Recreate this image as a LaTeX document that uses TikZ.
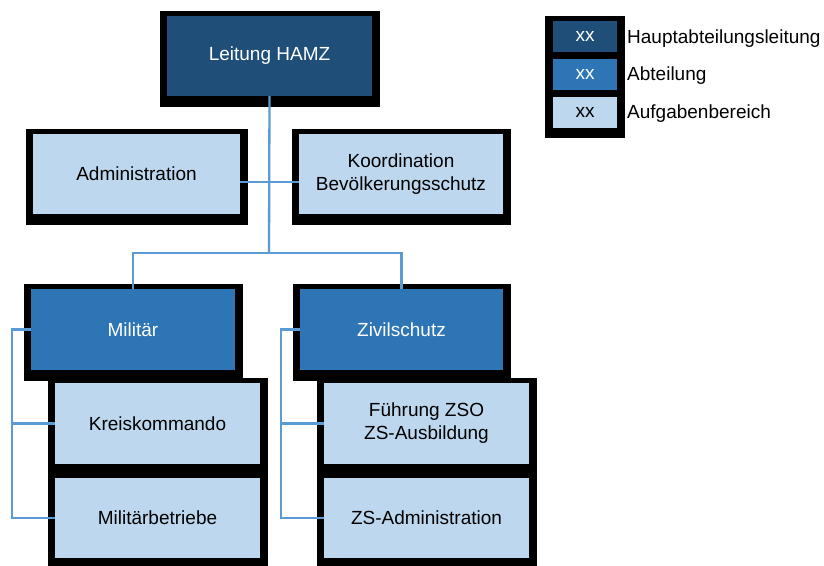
\documentclass[tikz,border=0pt]{standalone}
\usepackage{fontspec}
\setmainfont{Liberation Sans}
\definecolor{cDark}{HTML}{1F4E79}
\definecolor{cMid}{HTML}{2E75B6}
\definecolor{cLight}{HTML}{BDD7EE}
\definecolor{cLine}{HTML}{5B9BD5}
\tikzset{
  framefill/.style={fill=black},
  leadbox/.style={fill=cDark, text=white},
  deptbox/.style={fill=cMid, text=white},
  taskbox/.style={fill=cLight, text=black},
  orgtext/.style={inner sep=0pt, align=center, font=\fontsize{19}{23}\selectfont},
  conn/.style={draw=cLine, line width=2.3pt},
}
% name, style, x1, y1, x2, y2, text
\newcommand\orgbx[7]{%
  \fill[framefill] (#3-7,#4-4) rectangle (#5+8,#6+12);
  \node[orgtext,#2,minimum width={#5-#3},minimum height={#6-#4}] (#1) at ({(#3+#5)/2},{(#4+#6)/2+1}) {#7};
}
\begin{document}
\begin{tikzpicture}[x=1pt,y=-1pt]
\useasboundingbox (0,0) rectangle (824,565);
\orgbx{lead}{leadbox}{167}{15}{372}{95}{Leitung HAMZ}
\orgbx{admin}{taskbox}{33}{133}{240}{213}{Administration}
\orgbx{koord}{taskbox}{299}{133}{503}{213}{Koordination\\Bevölkerungsschutz}
\orgbx{mil}{deptbox}{31}{288}{235}{369}{Militär}
\orgbx{ziv}{deptbox}{300}{288}{503}{369}{Zivilschutz}
\orgbx{kreis}{taskbox}{55}{382}{260}{463}{Kreiskommando}
\orgbx{milbet}{taskbox}{55}{477}{260}{557}{Militärbetriebe}
\orgbx{fzso}{taskbox}{324}{382}{529}{463}{Führung ZSO\\ZS-Ausbildung}
\orgbx{zsadm}{taskbox}{324}{477}{529}{557}{ZS-Administration}
% legend
\fill[framefill] (545,16) rectangle (625,138);
\node[orgtext,leadbox,minimum width=64,minimum height=31] (lg1) at (585,36.5) {xx};
\node[orgtext,deptbox,minimum width=64,minimum height=31] (lg2) at (585,74.5) {xx};
\node[orgtext,taskbox,minimum width=64,minimum height=31] (lg3) at (585,112.5) {xx};
\node[orgtext,anchor=west] (lt1) at (627,39) {Hauptabteilungsleitung};
\node[orgtext,anchor=west] (lt2) at (627,76) {Abteilung};
\node[orgtext,anchor=west] (lt3) at (627,114) {Aufgabenbereich};
% connectors
\coordinate (j1) at (269,253);
\draw[conn] (lead.south) -- (j1);
\draw[conn] (admin.east |- 0,182) -- (koord.west |- 0,182);
\draw[conn] (mil.north) |- (j1) -| (ziv.north);
\coordinate (bm) at (12,0);
\draw[conn] (mil.west) -| (bm |- milbet.west) -- (milbet.west);
\draw[conn] (bm |- kreis.west) -- (kreis.west);
\coordinate (bz) at (281,0);
\draw[conn] (ziv.west) -| (bz |- zsadm.west) -- (zsadm.west);
\draw[conn] (bz |- fzso.west) -- (fzso.west);
\end{tikzpicture}
\end{document}
